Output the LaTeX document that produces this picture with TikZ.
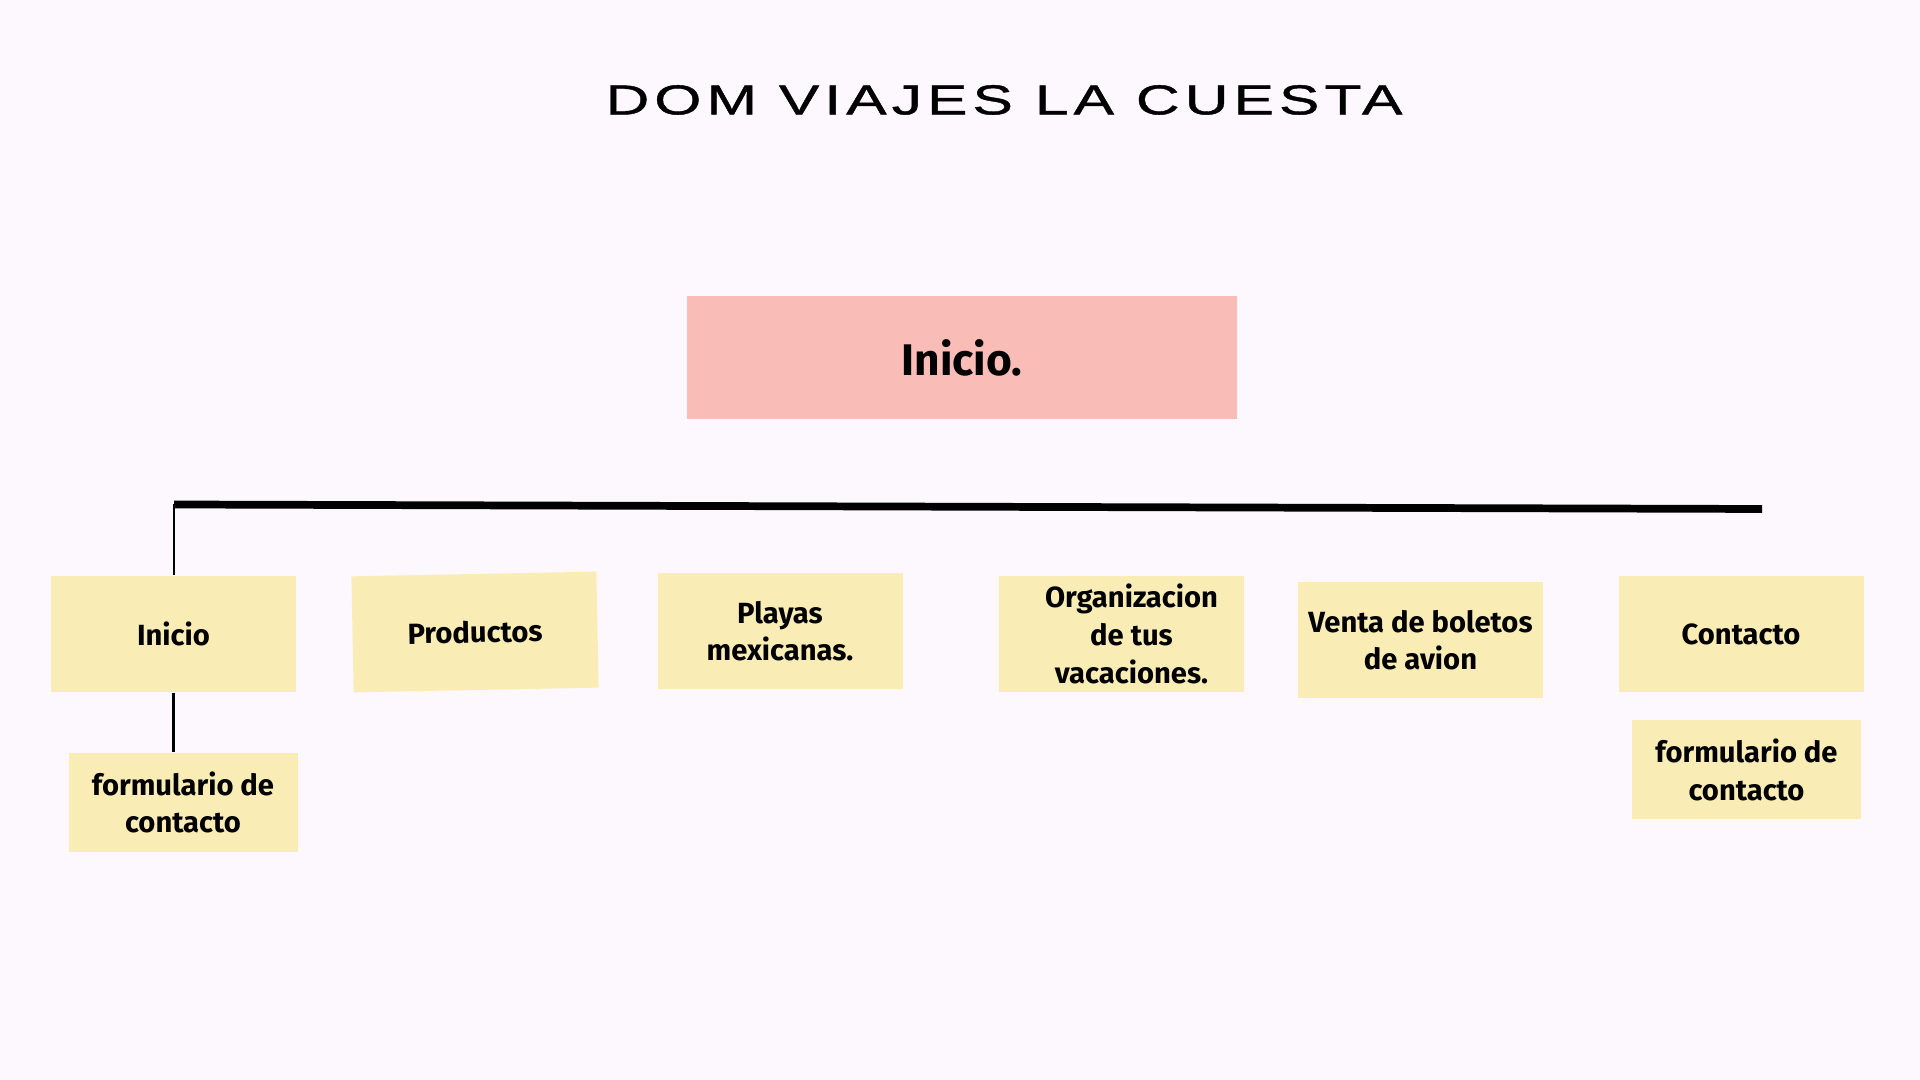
\documentclass[tikz,border=0pt]{standalone}
\usepackage{fontspec}
\setmainfont{Fira Sans}
\newfontfamily\titlefont[FakeStretch=1.45,LetterSpace=12,FakeBold=1]{Liberation Sans}
\usetikzlibrary{positioning}

\definecolor{fondo}{RGB}{252,248,253}
\definecolor{rosa}{RGB}{250,188,182}
\definecolor{amarillo}{RGB}{249,236,180}

\tikzset{
	pagina/.style={fill=amarillo, minimum width=2.45cm, minimum height=1.16cm, align=center, inner sep=2pt, font=\fontsize{8.3}{10.7}\selectfont\bfseries},
	subpagina/.style={pagina, minimum width=2.29cm, minimum height=0.99cm},
	rama/.style={line width=0.7pt}
}

\begin{document}
\begin{tikzpicture}
		
		\fill[fondo] (0,0) rectangle (19.2,10.8);
		
		% titulo
		\node (titulo) at (10.04,9.80) {\titlefont\fontsize{11.9}{14}\selectfont DOM VIAJES LA CUESTA};
		
		% raiz
		\node[fill=rosa, minimum width=5.5cm, minimum height=1.23cm, font=\fontsize{12.6}{15}\selectfont\bfseries] (raiz) at (9.62,7.225) {Inicio.};
		
		% barra
		\coordinate (barraI) at (1.74,5.755);
		\coordinate (barraD) at (17.62,5.71);
		\draw[line width=2.2pt] (barraI) -- (barraD);
		
		% paginas
		\node[pagina] (inicio) at (1.735,4.46) {Inicio};
		\node[pagina, rotate=1.1] (productos) at (4.75,4.48) {Productos};
		\node[pagina] (playas) at (7.80,4.49) {Playas\\mexicanas.};
		\node[pagina] (organizacion) at (11.215,4.46) {\hspace*{0.2cm}Organizacion\\\hspace*{0.2cm}de tus\\\hspace*{0.2cm}vacaciones.};
		\node[pagina] (venta) at (14.205,4.40) {Venta de boletos\\de avion};
		\node[pagina] (contacto) at (17.41,4.46) {Contacto};
		
		% subpaginas
		\node[subpagina] (formI) at (1.83,2.775) {formulario de\\contacto};
		\node[subpagina] (formD) at (17.465,3.10) {formulario de\\contacto};
		
		\draw[rama] (barraI) -- (barraI |- inicio.north);
		\draw[rama] (inicio.south) -- (inicio.south |- formI.north);
		
	\end{tikzpicture}
\end{document}
